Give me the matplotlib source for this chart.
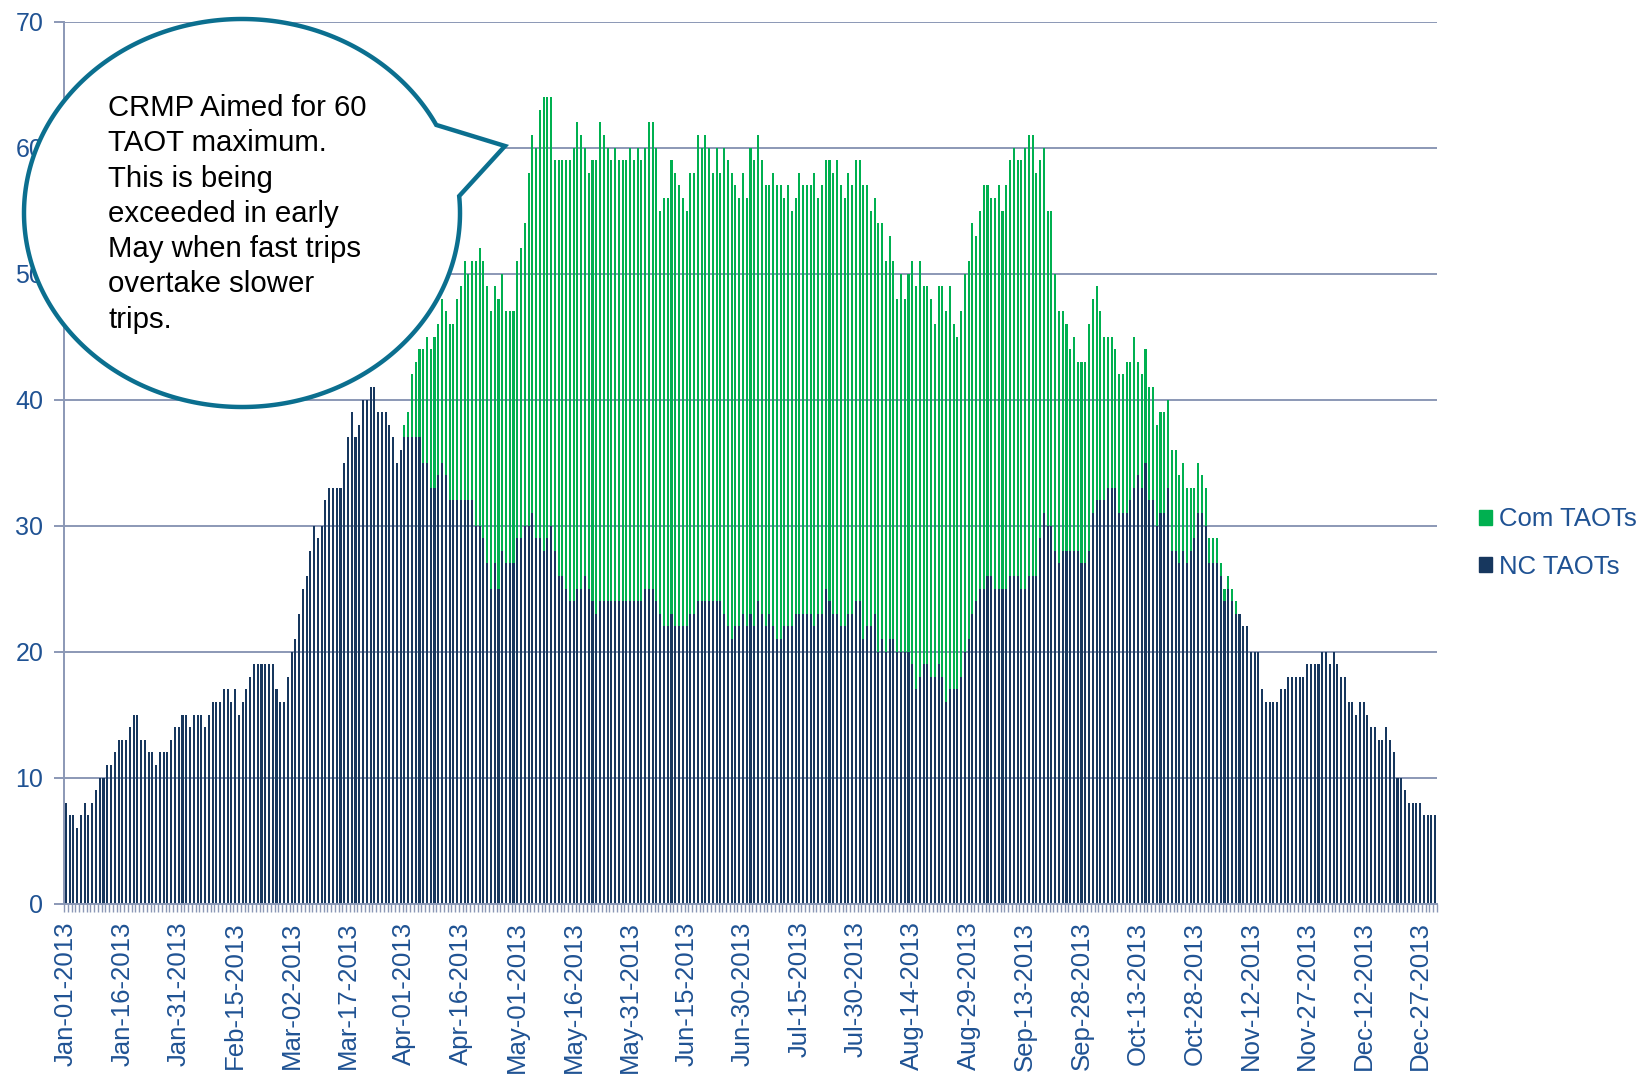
import numpy as np
import matplotlib
matplotlib.use("Agg")
import matplotlib.pyplot as plt
import matplotlib.patches as mpatches

plt.rcParams['font.family'] = ['Liberation Sans', 'DejaVu Sans']

# ---------------- data ----------------
tick_labels = ["Jan-01-2013", "Jan-16-2013", "Jan-31-2013", "Feb-15-2013", "Mar-02-2013",
               "Mar-17-2013", "Apr-01-2013", "Apr-16-2013", "May-01-2013", "May-16-2013",
               "May-31-2013", "Jun-15-2013", "Jun-30-2013", "Jul-15-2013", "Jul-30-2013",
               "Aug-14-2013", "Aug-29-2013", "Sep-13-2013", "Sep-28-2013", "Oct-13-2013",
               "Oct-28-2013", "Nov-12-2013", "Nov-27-2013", "Dec-12-2013", "Dec-27-2013"]
tick_every = 15
series_names = ["Com TAOTs", "NC TAOTs"]

nc_taots = [
    8, 7, 7, 6, 7, 8, 7, 8, 9, 10,
    10, 11, 11, 12, 13, 13, 13, 14, 15, 15,
    13, 13, 12, 12, 11, 12, 12, 12, 13, 14,
    14, 15, 15, 14, 15, 15, 15, 14, 15, 16,
    16, 16, 17, 17, 16, 17, 15, 16, 17, 18,
    19, 19, 19, 19, 19, 19, 17, 16, 16, 18,
    20, 21, 23, 25, 26, 28, 30, 29, 30, 32,
    33, 33, 33, 33, 35, 37, 39, 37, 38, 40,
    40, 41, 41, 39, 39, 39, 38, 37, 35, 36,
    37, 37, 37, 37, 37, 35, 35, 33, 33, 34,
    35, 34, 32, 32, 32, 32, 32, 32, 32, 30,
    30, 29, 27, 25, 27, 25, 28, 27, 27, 27,
    29, 29, 30, 30, 31, 29, 29, 28, 29, 30,
    28, 26, 26, 25, 24, 24, 25, 25, 26, 25,
    24, 23, 24, 24, 24, 24, 24, 24, 24, 24,
    24, 24, 24, 24, 25, 25, 25, 24, 23, 22,
    22, 23, 22, 22, 22, 22, 23, 23, 24, 24,
    24, 24, 24, 24, 24, 23, 22, 21, 22, 22,
    23, 22, 23, 22, 24, 23, 22, 23, 22, 21,
    21, 22, 22, 22, 23, 23, 23, 23, 23, 22,
    23, 23, 25, 24, 23, 23, 22, 22, 23, 23,
    24, 24, 21, 22, 22, 23, 20, 21, 20, 21,
    21, 20, 20, 20, 20, 19, 17, 18, 19, 19,
    18, 18, 19, 18, 16, 17, 17, 17, 18, 20,
    21, 23, 24, 25, 25, 26, 26, 25, 25, 25,
    25, 26, 26, 26, 25, 25, 26, 26, 26, 29,
    31, 30, 30, 28, 27, 28, 28, 28, 28, 28,
    27, 27, 28, 31, 32, 32, 32, 33, 33, 33,
    31, 31, 31, 32, 33, 34, 33, 35, 32, 32,
    30, 31, 31, 33, 28, 28, 27, 28, 27, 28,
    29, 31, 31, 30, 27, 27, 27, 26, 24, 25,
    24, 23, 23, 22, 22, 20, 20, 20, 17, 16,
    16, 16, 16, 17, 17, 18, 18, 18, 18, 18,
    19, 19, 19, 19, 20, 20, 19, 20, 19, 18,
    18, 16, 16, 15, 16, 16, 15, 14, 14, 13,
    13, 14, 13, 12, 10, 10, 9, 8, 8, 8,
    8, 7, 7, 7, 7]

com_taots = [0] * 90 + [
    1, 2, 5, 6, 7, 9, 10, 11, 12, 12,
    13, 13, 14, 14, 16, 17, 19, 18, 19, 21,
    22, 22, 22, 22, 22, 23, 22, 20, 20, 20,
    22, 23, 24, 28, 30, 31, 34, 36, 35, 34,
    31, 33, 33, 34, 35, 36, 37, 36, 34, 33,
    35, 36, 38, 37, 36, 35, 36, 35, 35, 35,
    36, 35, 36, 35, 35, 37, 37, 36, 32, 34,
    34, 36, 36, 35, 34, 33, 35, 35, 37, 36,
    37, 36, 34, 36, 34, 37, 37, 37, 35, 34,
    35, 34, 37, 37, 37, 36, 35, 34, 36, 36,
    36, 34, 35, 33, 33, 35, 34, 34, 34, 36,
    33, 34, 34, 35, 35, 36, 35, 34, 35, 34,
    35, 35, 36, 35, 33, 33, 34, 33, 31, 32,
    30, 28, 30, 28, 30, 32, 32, 33, 30, 30,
    30, 28, 30, 31, 31, 32, 29, 28, 29, 30,
    30, 31, 29, 30, 32, 31, 30, 31, 32, 30,
    32, 33, 34, 33, 34, 35, 35, 35, 32, 30,
    29, 25, 25, 22, 20, 19, 18, 16, 17, 15,
    16, 16, 18, 17, 17, 15, 13, 12, 12, 11,
    11, 11, 12, 11, 12, 9, 9, 9, 9, 9,
    8, 8, 8, 7, 8, 8, 7, 7, 6, 5,
    4, 4, 3, 3, 2, 2, 2, 1, 1, 1,
    1, 1, 0, 0, 0, 0] + [0] * 49

callout_text = ("CRMP Aimed for 60\nTAOT maximum.\nThis is being\nexceeded in early\n"
                "May when fast trips\novertake slower\ntrips.")

# ---------------- styling ----------------
W, H = 1650, 1076
NC_COLOR = '#17375E'
COM_COLOR = '#00B050'
GRID = '#8B98B6'
TXT = '#1F5293'
FS_Y = 18
FS_X = 18.5
FS_LEG = 18.5

fig = plt.figure(figsize=(W / 100, H / 100), dpi=100)
ax = fig.add_axes([64 / W, 1 - 903.5 / H, (1437 - 64) / W, (903.5 - 21.5) / H])

x = np.arange(len(nc_taots))
ax.bar(x, nc_taots, width=0.55, color=NC_COLOR, label=series_names[1], zorder=2)
ax.bar(x, com_taots, width=0.55, bottom=nc_taots, color=COM_COLOR, label=series_names[0], zorder=2)

ax.set_xlim(-0.5, len(x) - 0.5)
ax.set_ylim(0, 70)
ax.set_yticks(np.arange(0, 71, 10))
ax.yaxis.grid(True, color=GRID, lw=1.4)
ax.set_axisbelow(True)
for s in ['top', 'right']:
    ax.spines[s].set_visible(False)
for s in ['left', 'bottom']:
    ax.spines[s].set_color(GRID)
    ax.spines[s].set_linewidth(1.4)

ax.tick_params(axis='y', length=7, color=GRID, width=1.4, labelsize=FS_Y, labelcolor=TXT, pad=8)
ax.set_xticks(np.arange(0, len(x), tick_every))
ax.set_xticklabels(tick_labels, rotation=90)
ax.set_xticks(np.arange(-0.5, len(x), 1), minor=True)
ax.tick_params(axis='x', which='major', length=0, labelsize=FS_X, labelcolor=TXT, pad=13)
ax.tick_params(axis='x', which='minor', length=6, color=GRID, width=1.0)

handles = [mpatches.Patch(color=COM_COLOR), mpatches.Patch(color=NC_COLOR)]
fig.legend(handles, series_names, loc='center left', bbox_to_anchor=(1466 / W, 1 - 543 / H),
           frameon=False, fontsize=FS_LEG, labelcolor=TXT, handlelength=0.5, handleheight=0.5,
           handletextpad=0.3, labelspacing=0.9, borderpad=0)

# speech-bubble callout (pixel coordinates, y down)
cx, cy, rx, ry = 242, 213, 218, 194
t = np.deg2rad(np.linspace(-5, 333, 400))
px = cx + rx * np.cos(t)
py = cy + ry * np.sin(t)
pts = [(a / W, 1 - b / H) for a, b in zip(px, py)] + [(505 / W, 1 - 146 / H)]
bubble = mpatches.Polygon(pts, closed=True, facecolor='white', edgecolor='#0B6F8F', lw=3.2,
                          joinstyle='miter', transform=fig.transFigure, zorder=10)
fig.add_artist(bubble)
fig.text(108 / W, 1 - 94 / H, callout_text, fontsize=21.2, va='top', ha='left',
         linespacing=1.33, color='black', zorder=11)

fig.savefig('out.png', dpi=100)
